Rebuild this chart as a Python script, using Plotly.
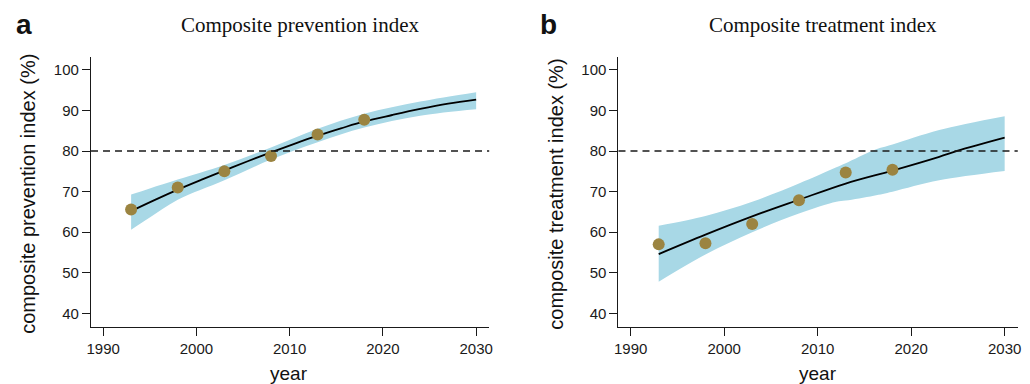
import plotly.graph_objects as go

# ---------------- data ----------------
obs_years = [1993, 1998, 2003, 2008, 2013, 2018]

# panel a: composite prevention index
prev_obs = [65.6, 71.0, 75.0, 78.8, 84.1, 87.7]
prev_fit_years = [1993, 1995.5, 1998, 2000.5, 2003, 2005.5, 2008, 2010.5, 2013, 2015.5, 2018, 2021, 2024, 2027, 2030]
prev_fit = [65.2, 67.9, 70.5, 72.9, 75.2, 77.5, 79.7, 81.8, 83.8, 85.6, 87.3, 88.9, 90.4, 91.7, 92.7]
prev_band_years = [1993, 1995, 1998, 2003, 2008, 2013, 2018, 2024, 2030]
prev_upper = [69.3, 70.8, 73.0, 76.6, 80.9, 85.5, 89.2, 92.2, 94.5]
prev_lower = [60.6, 63.6, 68.0, 72.8, 77.9, 82.2, 85.8, 88.7, 90.3]

# panel b: composite treatment index
treat_obs = [57.0, 57.3, 62.0, 67.9, 74.7, 75.4]
treat_fit_years = [1993, 1998, 2003, 2008, 2013, 2018, 2023, 2025, 2030]
treat_fit = [54.6, 59.4, 63.9, 68.0, 72.0, 75.2, 78.6, 80.1, 83.3]
treat_band_years = [1993, 1998, 2003, 2008, 2012, 2013, 2016, 2018, 2023, 2030]
treat_upper = [61.6, 64.0, 67.5, 72.0, 76.0, 77.0, 80.2, 81.6, 85.2, 88.6]
treat_lower = [47.8, 54.5, 60.0, 64.6, 67.5, 67.8, 69.0, 70.0, 72.8, 75.1]

target = 80
x_ticks = [1990, 2000, 2010, 2020, 2030]
y_ticks = [40, 50, 60, 70, 80, 90, 100]

W, H = 1030, 384
BAND = "#a8d8e6"
DOT = "#9b8441"

fig = go.Figure()

def add_panel(xa, ya, band_years, lower, upper, fit_years, fit, obs):
    fig.add_trace(go.Scatter(x=band_years, y=lower, mode="lines", line=dict(width=0, color=BAND),
                             line_shape="spline", xaxis=xa, yaxis=ya, showlegend=False, hoverinfo="skip"))
    fig.add_trace(go.Scatter(x=band_years, y=upper, mode="lines", line=dict(width=0, color=BAND),
                             line_shape="spline", fill="tonexty", fillcolor=BAND,
                             xaxis=xa, yaxis=ya, showlegend=False, hoverinfo="skip"))
    fig.add_trace(go.Scatter(x=fit_years, y=fit, mode="lines", line=dict(width=1.8, color="black"),
                             line_shape="spline", xaxis=xa, yaxis=ya, showlegend=False))
    fig.add_trace(go.Scatter(x=obs_years, y=obs, mode="markers",
                             marker=dict(size=12, color=DOT, line=dict(width=0)),
                             xaxis=xa, yaxis=ya, showlegend=False))

add_panel("x", "y", prev_band_years, prev_lower, prev_upper, prev_fit_years, prev_fit, prev_obs)
add_panel("x2", "y2", treat_band_years, treat_lower, treat_upper, treat_fit_years, treat_fit, treat_obs)

# plot area pixel boxes
L1, R1 = 87.7, 489.0
L2, R2 = 619.3, 1021.7
T, B = 57.0, 326.7

ax_common = dict(showline=True, linecolor="#1a1a1a", linewidth=1.3, ticks="outside", ticklen=8,
                 tickwidth=1.3, tickcolor="#1a1a1a", showgrid=False, zeroline=False,
                 tickfont=dict(family="Liberation Sans, Arial", size=15, color="#1a1a1a"))

fig.update_layout(
    width=W, height=H, margin=dict(l=0, r=0, t=0, b=0),
    paper_bgcolor="white", plot_bgcolor="white",
    xaxis=dict(domain=[L1 / W, R1 / W], range=[1988.7, 2031.4], tickvals=x_ticks, anchor="y", **ax_common),
    yaxis=dict(domain=[1 - B / H, 1 - T / H], range=[36.7, 103.2], tickvals=y_ticks, anchor="x", **ax_common),
    xaxis2=dict(domain=[L2 / W, R2 / W], range=[1988.7, 2031.4], tickvals=x_ticks, anchor="y2", **ax_common),
    yaxis2=dict(domain=[1 - B / H, 1 - T / H], range=[36.7, 103.2], tickvals=y_ticks, anchor="x2", **ax_common),
)

for xr, yr in [("x", "y"), ("x2", "y2")]:
    fig.add_shape(type="line", xref=f"{xr} domain", yref=yr, x0=0, x1=1, y0=target, y1=target,
                  line=dict(color="#1a1a1a", width=1.5, dash="7px,5px"))

def ann(text, px, py, size, family, bold=False, angle=0):
    fig.add_annotation(text=f"<b>{text}</b>" if bold else text, x=px / W, y=1 - py / H,
                       xref="paper", yref="paper", showarrow=False, textangle=angle,
                       font=dict(size=size, family=family, color="#111111"),
                       xanchor="center", yanchor="middle")

sans = "Liberation Sans, Arial"
serif = "Liberation Serif, Times New Roman"
ann("a", 20, 24, 28, sans, bold=True)
ann("b", 549, 24, 28, sans, bold=True)
ann("Composite prevention index", 298, 25, 21, serif)
ann("Composite treatment index", 825, 25, 21, serif)
ann("composite prevention index (%)", 24, 194, 20, sans, angle=-90)
ann("composite treatment index (%)", 556, 194, 20, sans, angle=-90)
ann("year", 287, 373, 19, sans)
ann("year", 820, 373, 19, sans)

fig.write_html("out.html", config={"displayModeBar": False},
               post_script="document.body.style.margin='0';document.body.style.overflow='hidden';")
